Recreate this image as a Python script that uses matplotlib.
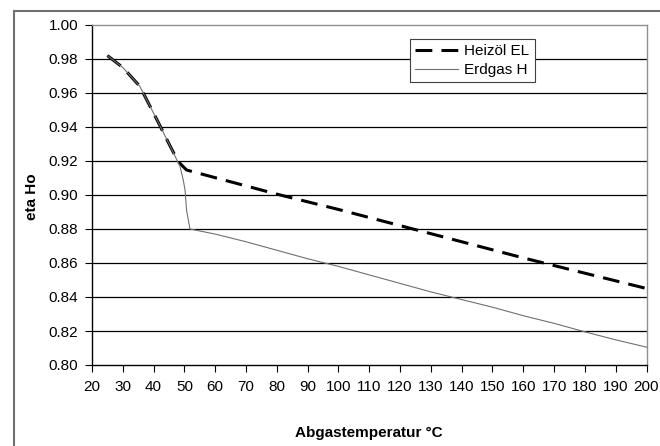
import matplotlib
matplotlib.use("Agg")
import matplotlib.pyplot as plt
from matplotlib.lines import Line2D

plt.rcParams['font.family'] = ['Liberation Sans', 'DejaVu Sans']

# Data
heizoel_T = [25, 30, 35.5, 42, 45.3, 48, 50.7, 80, 100, 120, 140, 160, 180, 200]
heizoel_eta = [0.982, 0.975, 0.964, 0.941, 0.929, 0.9196, 0.9147, 0.9005, 0.8915, 0.8820, 0.8725, 0.8630, 0.8540, 0.8450]

erdgas_T = [25, 30, 35.5, 42, 45.3, 48.6, 49.6, 50.2, 50.7, 51.8, 60, 70, 80, 90, 100, 110, 120, 130, 140, 150, 160, 170, 180, 190, 200]
erdgas_eta = [0.982, 0.975, 0.964, 0.941, 0.929, 0.9167, 0.909, 0.903, 0.891, 0.880, 0.877, 0.8725, 0.8675, 0.8625, 0.858, 0.853, 0.848, 0.843, 0.8385, 0.834, 0.829, 0.8245, 0.8195, 0.8148, 0.8105]

x_ticks = list(range(20, 201, 10))
y_ticks = [0.80, 0.82, 0.84, 0.86, 0.88, 0.90, 0.92, 0.94, 0.96, 0.98, 1.00]

W, H = 660, 446
FS = 11
fig = plt.figure(figsize=(W / 100, H / 100), dpi=100)

# outer chart frame
fig.add_artist(Line2D([14 / W, 14 / W], [0, 1 - 11 / H], color='#707070', lw=1.5, transform=fig.transFigure))
fig.add_artist(Line2D([14 / W, 1], [1 - 11 / H, 1 - 11 / H], color='#707070', lw=1.5, transform=fig.transFigure))

ax_l, ax_r, ax_t, ax_b = 92, 646.5, 25, 365
ax = fig.add_axes([ax_l / W, 1 - ax_b / H, (ax_r - ax_l) / W, (ax_b - ax_t) / H])

ax.plot(heizoel_T, heizoel_eta, color='black', lw=2.2, dashes=(5.5, 3), dash_capstyle='butt', label='Heizöl EL', zorder=3)
ax.plot(erdgas_T, erdgas_eta, color='#707070', lw=0.8, label='Erdgas H', zorder=3)

ax.set_xlim(20, 200)
ax.set_ylim(0.80, 1.00)
ax.set_xticks(x_ticks)
ax.set_yticks(y_ticks)
ax.set_yticklabels([f"{v:.2f}" for v in y_ticks])
ax.tick_params(axis='both', direction='out', length=5, width=0.8, labelsize=FS, colors='black')
ax.tick_params(axis='x', pad=6)
ax.tick_params(axis='y', pad=5)

for v in y_ticks[1:-1]:
    ax.axhline(v, color='black', lw=0.9, zorder=1)

ax.spines['left'].set_color('black')
ax.spines['bottom'].set_color('black')
ax.spines['top'].set_color('#909090')
ax.spines['right'].set_color('#909090')
for s in ax.spines.values():
    s.set_linewidth(1.0)

ax.set_xlabel('Abgastemperatur °C', fontsize=FS, fontweight='bold', va='center')
ax.xaxis.set_label_coords(0.5, -(433 - ax_b) / (ax_b - ax_t))
ax.set_ylabel('eta Ho', fontsize=FS, fontweight='bold', va='center')
ax.yaxis.set_label_coords((32 - ax_l) / (ax_r - ax_l), (ax_b - 197) / (ax_b - ax_t))

leg = ax.legend(loc='upper left', bbox_to_anchor=(410 / W, 1 - 39 / H), bbox_transform=fig.transFigure,
                fontsize=FS, frameon=True, fancybox=False, framealpha=1, edgecolor='#404040',
                handlelength=2.8, handletextpad=0.4, borderpad=0.35, labelspacing=0.3, borderaxespad=0)
leg.get_frame().set_linewidth(0.8)

fig.savefig('out.png', dpi=100)
